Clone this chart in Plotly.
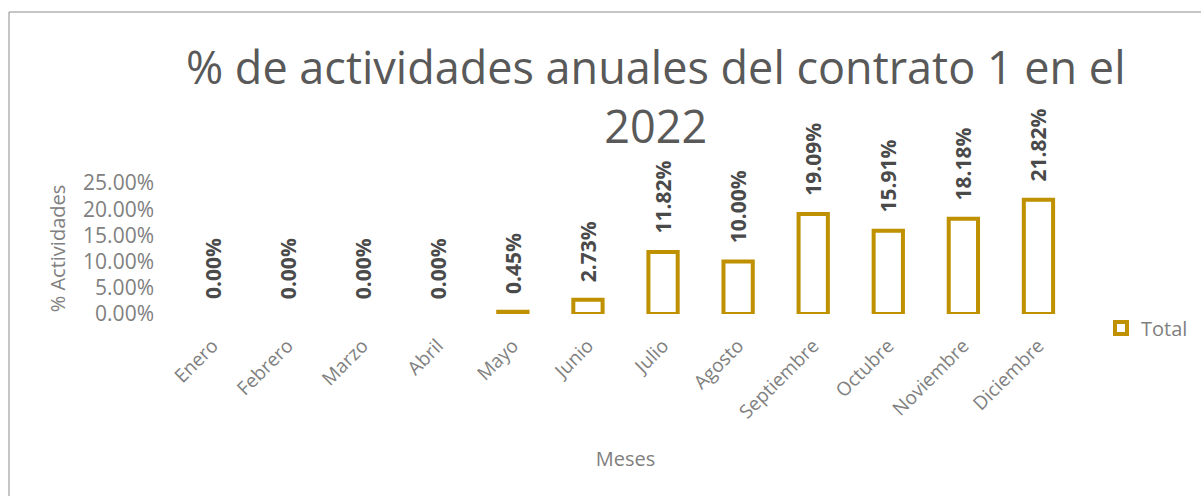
import plotly.graph_objects as go

months = ["Enero", "Febrero", "Marzo", "Abril", "Mayo", "Junio", "Julio",
          "Agosto", "Septiembre", "Octubre", "Noviembre", "Diciembre"]
values = [0.0, 0.0, 0.0, 0.0, 0.0045, 0.0273, 0.1182, 0.10, 0.1909, 0.1591, 0.1818, 0.2182]
labels = ["0.00%", "0.00%", "0.00%", "0.00%", "0.45%", "2.73%", "11.82%",
          "10.00%", "19.09%", "15.91%", "18.18%", "21.82%"]
y_ticks = [0, 0.05, 0.10, 0.15, 0.20, 0.25]

GOLD = "#BF9000"
FONT = "Open Sans"

fig = go.Figure()
# data bars (zero-value bars get no outline, as in the original)
fig.add_trace(go.Bar(
    x=months, y=values, name="Total",
    marker=dict(color="white",
                line=dict(color=GOLD, width=[0 if v == 0 else 4 for v in values])),
    showlegend=False,
))
# legend entry
fig.add_trace(go.Bar(
    x=[None], y=[None], name="Total",
    marker=dict(color="white", line=dict(color=GOLD, width=4)),
    showlegend=True,
))

for m, v, t in zip(months, values, labels):
    fig.add_annotation(
        x=m, y=v, text="<b>" + t + "</b>", textangle=-90, showarrow=False,
        xanchor="center", yanchor="bottom", yshift=13 + (3 if v > 0 else 0),
        font=dict(family=FONT, size=21, color="#4A4A4A"),
    )

bx0 = (9 - 175) / 901
bx1 = (1260 - 175) / 901
by0 = (314 - 560) / 131
by1 = (314 - 12) / 131

fig.update_layout(
    width=1201, height=496,
    margin=dict(l=175, r=125, t=183, b=182, autoexpand=False),
    paper_bgcolor="white", plot_bgcolor="white",
    bargap=0.61, barmode="overlay",
    title=dict(
        text="% de actividades anuales del contrato 1 en el<br>2022",
        x=0.546, xanchor="center", xref="container",
        y=1 - 84 / 496, yanchor="top", yref="container",
        font=dict(family=FONT, size=45, color="#595959"),
    ),
    xaxis=dict(
        tickangle=-45, showgrid=False, showline=False, zeroline=False,
        tickfont=dict(family=FONT, size=19, color="#808080"),
        ticklabelstandoff=16,
        title=dict(text="Meses", standoff=28,
                   font=dict(family=FONT, size=20, color="#808080")),
    ),
    yaxis=dict(
        range=[0, 0.25], tickvals=y_ticks, tickformat=".2%",
        showgrid=False, showline=False, zeroline=False,
        tickfont=dict(family=FONT, size=21, color="#808080"),
        ticklabelstandoff=20,
        title=dict(text="% Actividades", standoff=12,
                   font=dict(family=FONT, size=20, color="#808080")),
    ),
    legend=dict(
        x=(1101 - 175) / 901, xanchor="left", y=-0.107, yanchor="middle",
        font=dict(family=FONT, size=20, color="#808080"),
        itemwidth=30, bgcolor="rgba(0,0,0,0)",
    ),
    shapes=[
        dict(type="line", xref="paper", yref="paper",
             x0=bx0, x1=bx0, y0=by0, y1=by1,
             line=dict(color="#8C8C8C", width=1)),
        dict(type="line", xref="paper", yref="paper",
             x0=bx0, x1=bx1, y0=by1, y1=by1,
             line=dict(color="#8C8C8C", width=1)),
    ],
)

fig.write_html("out.html")
